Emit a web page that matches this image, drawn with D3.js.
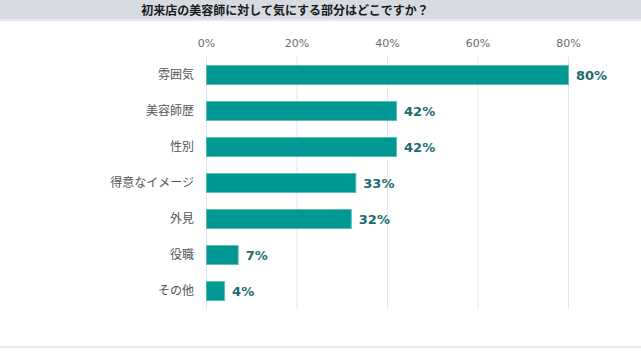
<!DOCTYPE html>
<html><head><meta charset="utf-8">
<script src="https://cdn.jsdelivr.net/npm/d3@7"></script>
<style>
html,body{margin:0;padding:0;background:#fff;}
svg{display:block;font-family:"Noto Sans CJK JP","Noto Sans",sans-serif;}
</style></head>
<body>
<svg id="c" width="641" height="356"></svg>
<script>
const title = "初来店の美容師に対して気にする部分はどこですか？";
const categories = ["雰囲気","美容師歴","性別","得意なイメージ","外見","役職","その他"];
const values = [80,42,42,33,32,7,4];
const ticks = [0,20,40,60,80];

const svg = d3.select("#c");
const W = 641;

svg.append("rect").attr("x",0).attr("y",0).attr("width",W).attr("height",19).attr("fill","#d6dbe2");
svg.append("rect").attr("x",0).attr("y",19).attr("width",W).attr("height",2).attr("fill","#e6e9ee");
svg.append("text").attr("x",285).attr("y",14.5).attr("text-anchor","middle")
  .attr("font-size",12).attr("font-weight","bold").attr("fill","#1a1a1a").text(title);

const x = d3.scaleLinear().domain([0,80]).range([206,568]);
const y = d3.scaleBand().domain(categories).range([57,309]).paddingInner(0.444).paddingOuter(0.222);

// grid
svg.append("g").selectAll("line").data(ticks).join("line")
  .attr("x1",d=>x(d)+0.5).attr("x2",d=>x(d)+0.5).attr("y1",57).attr("y2",309)
  .attr("stroke","#e1e5ec").attr("stroke-width",1);

// top axis labels
const ax = svg.append("g").attr("transform","translate(0,47)")
  .call(d3.axisTop(x).tickValues(ticks).tickFormat(d=>d+"%").tickSize(0).tickPadding(0));
ax.select(".domain").remove();
ax.selectAll("text").attr("font-size",11).attr("fill","#6b6b6b").attr("font-family",'"DejaVu Sans",sans-serif');

// category axis
const ay = svg.append("g").attr("transform","translate(194,0)")
  .call(d3.axisLeft(y).tickSize(0).tickPadding(0));
ay.select(".domain").remove();
ay.selectAll("text").attr("font-size",12).attr("fill","#555").attr("font-family",'"Noto Sans CJK JP",sans-serif');

// bars
svg.append("g").selectAll("rect").data(values).join("rect")
  .attr("x",x(0)+0.5).attr("y",(d,i)=>y(categories[i])+0.5)
  .attr("width",d=>x(d)-x(0)).attr("height",y.bandwidth()-1)
  .attr("fill","#009893").attr("stroke","#5cbcb7").attr("stroke-width",1);

// value labels
svg.append("g").selectAll("text").data(values).join("text")
  .attr("x",d=>x(d)+8).attr("y",(d,i)=>y(categories[i])+y.bandwidth()/2)
  .attr("dy","0.36em").attr("font-size",13).attr("font-weight","bold")
  .attr("font-family",'"DejaVu Sans",sans-serif')
  .attr("fill","#1d6b70").text(d=>d+"%");

// bottom line
svg.append("rect").attr("x",0).attr("y",346).attr("width",W).attr("height",2).attr("fill","#e9edf1");
</script>
</body></html>
